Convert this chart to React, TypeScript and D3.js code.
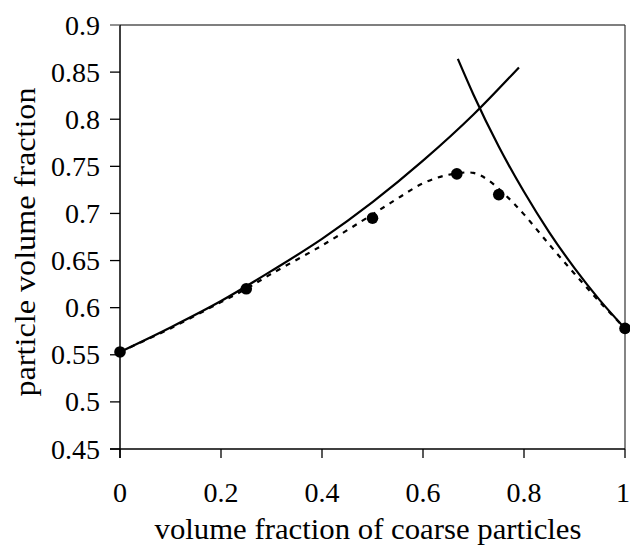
import React from "react";
import * as d3 from "d3";

const xTicks = [0, 0.2, 0.4, 0.6, 0.8, 1];
const xTickLabels = ["0", "0.2", "0.4", "0.6", "0.8", "1"];
const yTicks = [0.45, 0.5, 0.55, 0.6, 0.65, 0.7, 0.75, 0.8, 0.85, 0.9];
const yTickLabels = ["0.45", "0.5", "0.55", "0.6", "0.65", "0.7", "0.75", "0.8", "0.85", "0.9"];

const measuredX = [0, 0.25, 0.5, 0.667, 0.75, 1];
const measuredY = [0.553, 0.62, 0.695, 0.742, 0.72, 0.578];

const fineCurveX = [0, 0.1, 0.2, 0.3, 0.4, 0.5, 0.6, 0.7, 0.79];
const fineCurveY = [0.553, 0.579, 0.607, 0.639, 0.673, 0.712, 0.756, 0.805, 0.855];

const coarseCurveX = [0.669, 0.7, 0.75, 0.8, 0.85, 0.9, 0.95, 1];
const coarseCurveY = [0.864, 0.826, 0.771, 0.723, 0.68, 0.642, 0.608, 0.578];

const modelX = [0, 0.1, 0.2, 0.25, 0.3, 0.4, 0.5, 0.55, 0.6, 0.65, 0.7, 0.73, 0.77, 0.8, 0.85, 0.9, 0.95, 1];
const modelY = [0.553, 0.578, 0.606, 0.62, 0.636, 0.666, 0.699, 0.716, 0.732, 0.741, 0.743, 0.735, 0.716, 0.699, 0.667, 0.636, 0.606, 0.578];

const xTitle = "volume fraction of coarse particles";
const yTitle = "particle volume fraction";

const W = 630;
const H = 548;
const L = 120, R = 625, T = 25, B = 449;
const FONT = "'Liberation Serif', 'Times New Roman', serif";

export default function App() {
  const x = d3.scaleLinear().domain([0, 1]).range([L, R]);
  const y = d3.scaleLinear().domain([0.45, 0.9]).range([B, T]);

  const zip = (xs: number[], ys: number[]) => xs.map((v, i) => [v, ys[i]] as [number, number]);
  const smooth = d3.line<[number, number]>().x(d => x(d[0])).y(d => y(d[1])).curve(d3.curveMonotoneX);
  const cr = d3.line<[number, number]>().x(d => x(d[0])).y(d => y(d[1])).curve(d3.curveCatmullRom.alpha(0.5));

  return (
    <svg width={W} height={H} style={{ position: "absolute", left: 0, top: 0, display: "block", background: "#fff" }}>
      <rect x={0} y={0} width={W} height={H} fill="#fff" />
      {/* frame */}
      <line x1={L} x2={R} y1={T} y2={T} stroke="#555" strokeWidth={1.5} />
      <line x1={R} x2={R} y1={T} y2={B} stroke="#333" strokeWidth={1.2} />
      <line x1={L} x2={L} y1={T} y2={B + 9} stroke="#000" strokeWidth={1.5} />
      <line x1={L - 10} x2={R} y1={B} y2={B} stroke="#000" strokeWidth={1.5} />
      {/* y ticks */}
      {yTicks.map((t, i) => (
        <g key={"y" + i}>
          <line x1={L - 10} x2={L} y1={y(t)} y2={y(t)} stroke={t === 0.9 ? "#555" : "#000"} strokeWidth={1.3} />
          <text x={100} y={y(t) + 9.5} textAnchor="end" fontFamily={FONT} fontSize={28} fill="#000">
            {yTickLabels[i]}
          </text>
        </g>
      ))}
      {/* x ticks */}
      {xTicks.map((t, i) => (
        <g key={"x" + i}>
          <line x1={x(t)} x2={x(t)} y1={B} y2={B + 9} stroke="#000" strokeWidth={1.3} />
          <text x={i === xTicks.length - 1 ? x(t) - 2 : x(t)} y={502} textAnchor="middle" fontFamily={FONT} fontSize={28} fill="#000">
            {xTickLabels[i]}
          </text>
        </g>
      ))}
      {/* curves */}
      <path d={cr(zip(modelX, modelY)) || ""} fill="none" stroke="#000" strokeWidth={2.2} strokeDasharray="5,6" />
      <path d={smooth(zip(fineCurveX, fineCurveY)) || ""} fill="none" stroke="#000" strokeWidth={2.2} />
      <path d={smooth(zip(coarseCurveX, coarseCurveY)) || ""} fill="none" stroke="#000" strokeWidth={2.2} />
      {/* points */}
      {measuredX.map((v, i) => (
        <circle key={"p" + i} cx={x(v)} cy={y(measuredY[i])} r={5.8} fill="#000" />
      ))}
      {/* titles */}
      <text x={368} y={539} textAnchor="middle" fontFamily={FONT} fontSize={29} fill="#000" textLength={427} lengthAdjust="spacingAndGlyphs">
        {xTitle}
      </text>
      <text transform={`translate(35, 242) rotate(-90)`} textAnchor="middle" fontFamily={FONT} fontSize={29} fill="#000" textLength={309} lengthAdjust="spacingAndGlyphs">
        {yTitle}
      </text>
    </svg>
  );
}
